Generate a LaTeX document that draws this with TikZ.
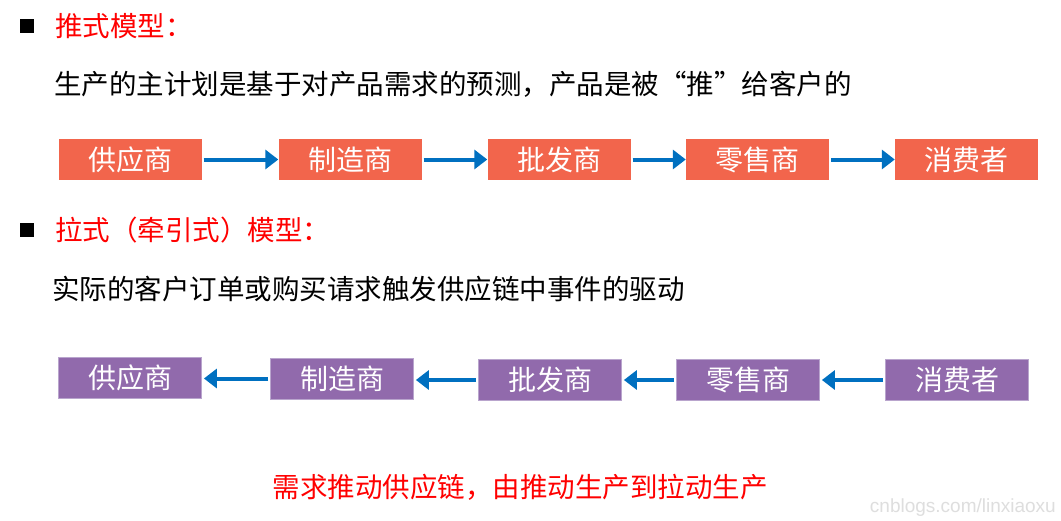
\documentclass[tikz,border=0pt]{standalone}
\usepackage{fontspec}
\setmainfont{Noto Sans CJK SC}
\newfontfamily\wmfont{Liberation Sans}
\usetikzlibrary{arrows.meta}
\definecolor{pushred}{RGB}{242,101,76}
\definecolor{pullpurple}{RGB}{145,106,172}
\definecolor{pullborder}{RGB}{185,165,205}
\definecolor{arrowblue}{RGB}{0,112,192}
\definecolor{titlered}{RGB}{255,0,0}
\definecolor{wmgray}{RGB}{222,222,222}
\begin{document}
\begin{tikzpicture}[x=1pt,y=-1pt,
  pushbox/.style={fill=pushred,draw=none,minimum width=143pt,minimum height=41pt,inner sep=0pt,text=white,font=\fontsize{28}{32}\selectfont},
  pullbox/.style={fill=pullpurple,draw=pullborder,line width=0.8pt,minimum width=143pt,minimum height=41pt,inner sep=0pt,text=white,font=\fontsize{28}{32}\selectfont},
  flow/.style={draw=arrowblue,line width=4pt,-{Triangle[length=13pt,width=19pt]}},
  bullet/.style={fill=black,minimum size=14pt,inner sep=0pt},
  heading/.style={anchor=west,inner sep=0pt,text=titlered,font=\fontsize{27.5}{32}\selectfont},
  body/.style={anchor=west,inner sep=0pt,font=\fontsize{27.5}{32}\selectfont},
]
\useasboundingbox[fill=white] (0,0) rectangle (1061,520);

% push model
\node[bullet] (b1) at (27,26) {};
\node[heading] (h1) at (55,26) {推式模型：};
\node[body] (t1) at (54,84) {生产的主计划是基于对产品需求的预测，产品是被“推”给客户的};

\node[pushbox] (p1) at (130,159.5) {供应商};
\node[pushbox] (p2) at (350,159.5) {制造商};
\node[pushbox] (p3) at (559,159.5) {批发商};
\node[pushbox] (p4) at (757.5,159.5) {零售商};
\node[pushbox] (p5) at (966.5,159.5) {消费者};
\draw[flow] ([xshift=2pt]p1.east) -- (p2.west);
\draw[flow] ([xshift=2pt]p2.east) -- (p3.west);
\draw[flow] ([xshift=2pt]p3.east) -- (p4.west);
\draw[flow] ([xshift=2pt]p4.east) -- (p5.west);

% pull model
\node[bullet] (b2) at (27,230) {};
\node[heading] (h2) at (55,230) {拉式（牵引式）模型：};
\node[body] (t2) at (52,289) {实际的客户订单或购买请求触发供应链中事件的驱动};

\node[pullbox] (q1) at (130,377.5) {供应商};
\node[pullbox] (q2) at (342,378.5) {制造商};
\node[pullbox] (q3) at (550,380) {批发商};
\node[pullbox] (q4) at (748,380) {零售商};
\node[pullbox] (q5) at (957,380) {消费者};
\draw[flow] ([xshift=-2pt]q2.west) -- ([xshift=2pt]q1.east |- q2.west);
\draw[flow] ([xshift=-2pt]q3.west) -- ([xshift=2pt]q2.east |- q3.west);
\draw[flow] ([xshift=-2pt]q4.west) -- ([xshift=2pt]q3.east |- q4.west);
\draw[flow] ([xshift=-2pt]q5.west) -- ([xshift=2pt]q4.east |- q5.west);

% conclusion
\node[inner sep=0pt,text=titlered,font=\fontsize{27.5}{32}\selectfont] (c) at (520,487) {需求推动供应链，由推动生产到拉动生产};

% watermark
\node[anchor=east,inner sep=0pt,text=wmgray,font=\wmfont\fontsize{19}{22}\selectfont] (wm) at (1056,508) {cnblogs.com/linxiaoxu};
\end{tikzpicture}
\end{document}
